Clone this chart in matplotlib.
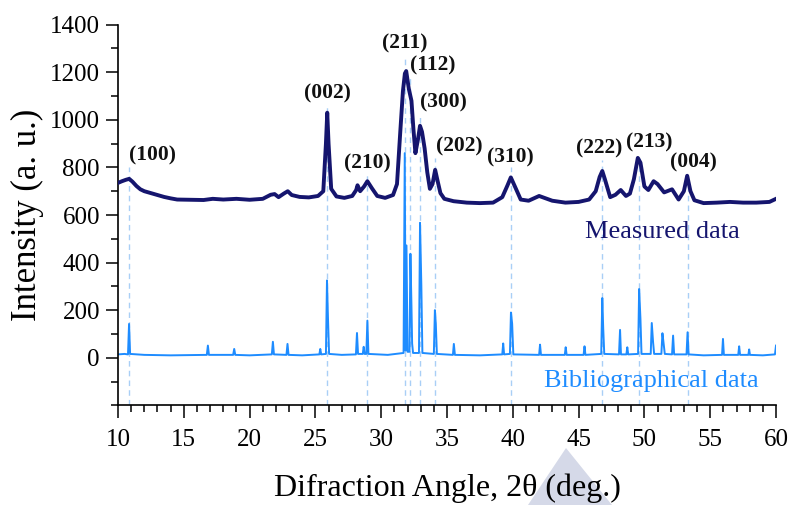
import matplotlib
matplotlib.use("Agg")
import matplotlib.pyplot as plt
import numpy as np

plt.rcParams["font.family"] = ["Liberation Serif", "DejaVu Serif"]

# ---------- data ----------

# measured pattern (2theta in deg, intensity)
measured_x = [10.0, 10.3, 10.6, 10.85, 11.1, 11.4, 11.7, 12.0, 12.5, 13.0, 13.5, 14.0,
              14.5, 15.5, 16.5, 17.2, 18.0, 19.0, 20.0, 21.0, 21.6, 21.9, 22.2, 22.6,
              22.9, 23.2, 23.8, 24.5, 25.2, 25.6, 25.8, 25.9, 26.0, 26.2, 26.6, 27.2,
              27.8, 28.1, 28.2, 28.4, 28.7, 28.95, 29.3, 29.7, 30.3, 30.9, 31.2, 31.45,
              31.65, 31.8, 31.9, 32.1, 32.3, 32.45, 32.6, 32.8, 32.95, 33.1, 33.3, 33.5,
              33.7, 33.9, 34.1, 34.3, 34.5, 34.8, 35.5, 36.5, 37.5, 38.5, 39.2, 39.6,
              39.85, 40.2, 40.6, 41.2, 42.0, 42.4, 43.0, 44.0, 45.0, 45.8, 46.3, 46.6,
              46.8, 47.0, 47.4, 47.8, 48.2, 48.6, 48.9, 49.2, 49.5, 49.7, 50.0, 50.3,
              50.7, 51.0, 51.5, 52.1, 52.6, 53.0, 53.25, 53.5, 53.8, 54.5, 55.5, 56.5,
              57.5, 58.5, 59.5, 60.0]
measured_y = [735, 742, 748, 752, 740, 722, 708, 700, 692, 684, 676, 670,
              665, 664, 663, 668, 665, 668, 664, 668, 685, 688, 675, 690,
              700, 684, 676, 674, 680, 700, 900, 1030, 900, 710, 678, 672,
              680, 705, 725, 700, 720, 742, 712, 680, 672, 684, 730, 950,
              1120, 1195, 1205, 1130, 1080, 960, 860, 920, 975, 950, 880, 780,
              710, 730, 790, 740, 692, 668, 658, 652, 650, 652, 675, 725,
              758, 715, 665, 660, 680, 672, 660, 652, 655, 665, 700, 760,
              785, 750, 675, 685, 705, 680, 690, 750, 840, 820, 720, 705,
              742, 730, 695, 708, 665, 700, 765, 700, 662, 650, 652, 655,
              652, 652, 655, 668]

# bibliographical pattern
bib_x = [10.0, 10.5, 10.76, 10.84, 10.92, 12.0, 14.0, 16.75, 16.83, 16.91, 18.75, 18.83,
         18.91, 20.0, 21.69, 21.77, 21.85, 22.8, 22.88, 22.96, 24.0, 25.3, 25.37, 25.44,
         25.8, 25.88, 25.95, 26.04, 27.0, 28.08, 28.16, 28.24, 28.6, 28.67, 28.74, 28.87,
         28.95, 29.03, 30.5, 31.7, 31.79, 31.85, 31.92, 32.0, 32.15, 32.22, 32.3, 32.35,
         32.42, 32.87, 32.95, 33.05, 33.13, 34.0, 34.08, 34.15, 34.23, 35.45, 35.52, 35.6,
         37.5, 39.2, 39.27, 39.34, 39.78, 39.86, 39.95, 40.04, 42.0, 42.07, 42.14, 43.95,
         44.02, 44.09, 45.38, 45.45, 45.52, 46.72, 46.8, 46.87, 46.95, 48.07, 48.15, 48.22,
         48.63, 48.7, 48.77, 49.52, 49.6, 49.7, 49.78, 50.48, 50.56, 50.66, 50.74, 51.29,
         51.37, 51.47, 51.55, 52.1, 52.18, 52.26, 53.2, 53.28, 53.36, 54.5, 55.9, 55.97,
         56.04, 57.13, 57.2, 57.27, 57.9, 57.96, 58.02, 59.0, 59.92, 60.0]
bib_y = [14, 16, 14, 142, 16, 12, 10, 12, 51, 12, 12, 37,
         12, 10, 14, 67, 14, 12, 58, 12, 10, 14, 37, 14,
         16, 325, 177, 16, 12, 14, 104, 16, 16, 46, 16, 16,
         156, 16, 12, 20, 860, 30, 472, 25, 25, 437, 215, 60,
         20, 20, 567, 304, 20, 16, 200, 142, 16, 12, 58, 12,
         10, 14, 60, 14, 16, 190, 143, 14, 12, 55, 12, 12,
         44, 12, 12, 48, 12, 16, 251, 125, 16, 14, 117, 14,
         14, 44, 14, 16, 289, 163, 16, 16, 146, 65, 16, 16,
         103, 55, 16, 14, 93, 14, 14, 107, 14, 10, 12, 79,
         12, 12, 48, 12, 12, 35, 12, 10, 14, 51]

# reflections: position, label, where the dashed guide ends, label position
hkl_labels = ["(100)", "(002)", "(210)", "(211)", "(112)", "(300)",
              "(202)", "(310)", "(222)", "(213)", "(004)"]
hkl_pos = [10.84, 25.88, 28.95, 31.79, 32.22, 32.93, 34.1, 39.87, 46.8, 49.6, 53.28]
hkl_guide_top = [800, 1055, 772, 1274, 1183, 1021, 840, 803, 831, 845, 776]
hkl_text_x = [12.62, 25.9, 28.96, 31.77, 33.95, 34.73, 35.96, 39.83, 46.55, 50.36, 53.7]
hkl_text_y = [850, 1110, 815, 1323, 1227, 1075, 886, 841, 878, 906, 822]

navy = "#15156e"
blue = "#1e8cff"
guide = "#a9cff6"

fig = plt.figure(figsize=(7.9, 5.05), dpi=100)
ax = fig.add_axes([118 / 790, 1 - 405.3 / 505, (776 - 118) / 790, (405.3 - 24.7) / 505])
ax.set_zorder(2)
ax.patch.set_alpha(0)

# faint grey triangle behind the x label
fig.patches.append(plt.Polygon([(528 / 790, 0), (566 / 790, 1 - 448 / 505), (612 / 790, 0)],
                               closed=True, transform=fig.transFigure, facecolor="#d5d9e8",
                               edgecolor="none", zorder=1))

# dashed guides
ax.vlines(hkl_pos, -200, hkl_guide_top, colors=guide, linestyles=(0, (4, 3)), linewidth=1.0, zorder=1)

ax.plot(bib_x, bib_y, color=blue, linewidth=1.4, zorder=2)
ax.plot(measured_x, measured_y, color=navy, linewidth=2.8, zorder=3)

for lab, tx, ty in zip(hkl_labels, hkl_text_x, hkl_text_y):
    ax.text(tx, ty, lab, ha="center", va="center", fontsize=15.5, fontweight="bold", color="#111111")

ax.text(51.4, 530, "Measured data", ha="center", va="center", fontsize=19, color=navy)
ax.text(50.5, -97, "Bibliographical data", ha="center", va="center", fontsize=19, color=blue)

ax.set_xlim(10, 60)
ax.set_ylim(-200, 1400)
ax.set_xticks(np.arange(10, 61, 5))
ax.set_xticks(np.arange(10, 61, 1), minor=True)
ax.set_yticks(np.arange(0, 1401, 200))
ax.set_yticks(np.arange(-200, 1401, 100), minor=True)

for s in ["top", "right"]:
    ax.spines[s].set_visible(False)
for s in ["left", "bottom"]:
    ax.spines[s].set_linewidth(1.2)

ax.tick_params(which="major", direction="out", length=9, width=1.1, labelsize=18)
ax.tick_params(axis="x", which="major", pad=8)
ax.tick_params(axis="y", which="major", pad=4)
ax.tick_params(which="minor", direction="out", length=5, width=1.1)

ax.set_xlabel("Difraction Angle, 2θ (deg.)", fontsize=23, labelpad=16)
ax.set_ylabel("Intensity (a. u.)", fontsize=25, labelpad=4)

fig.savefig("out.png", dpi=100)
